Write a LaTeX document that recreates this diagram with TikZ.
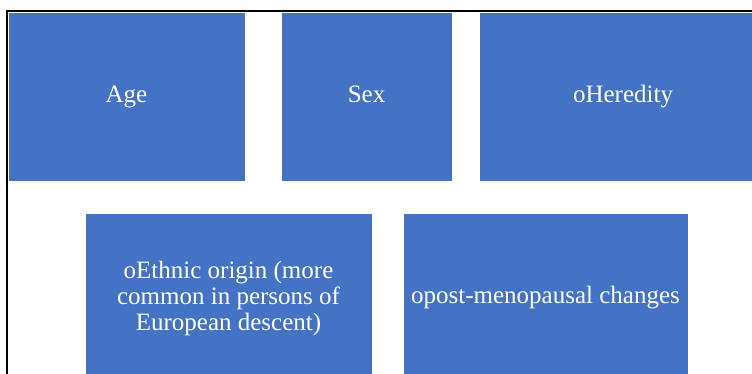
\documentclass[tikz,border=0pt]{standalone}
\usepackage{fontspec}
\setmainfont{Liberation Serif}
\newfontfamily\tilefont{Liberation Serif}
\definecolor{boxblue}{HTML}{4472C4}
\begin{document}
\begin{tikzpicture}[x=1pt,y=-1pt,
  tile/.style={rectangle, fill=boxblue, draw=white, line width=0.6pt, inner sep=0pt,
    text=white, align=center, font=\tilefont\fontsize{25}{26}\selectfont},
  oneline/.style={text height=1.3em, text depth=0.25em}]
\useasboundingbox (0,0) rectangle (752,374);
\clip (0,0) rectangle (752,374);
\fill[white] (0,0) rectangle (752,374);
% frame lines
\coordinate (fl) at (7,374);
\coordinate (fc) at (7,11);
\coordinate (fr) at (752,11);
\draw[black, line width=1.5pt] (fl) -- (fc) -- (fr);
% top row
\node[tile, oneline, minimum width=237pt, minimum height=169pt] (age) at (126.5,97) {Age};
\node[tile, oneline, minimum width=171pt, minimum height=169pt] (sex) at (366.5,97) {Sex};
\node[tile, oneline, minimum width=288pt, minimum height=169pt] (heredity) at (623,97) {oHeredity};
% bottom row
\node[tile, minimum width=287pt, minimum height=170pt] (ethnic) at (228.5,298)
  {oEthnic origin (more\\common in persons of\\European descent)};
\node[tile, minimum width=285pt, minimum height=170pt] (meno) at (545.5,298)
  {opost-menopausal changes};
\end{tikzpicture}
\end{document}
